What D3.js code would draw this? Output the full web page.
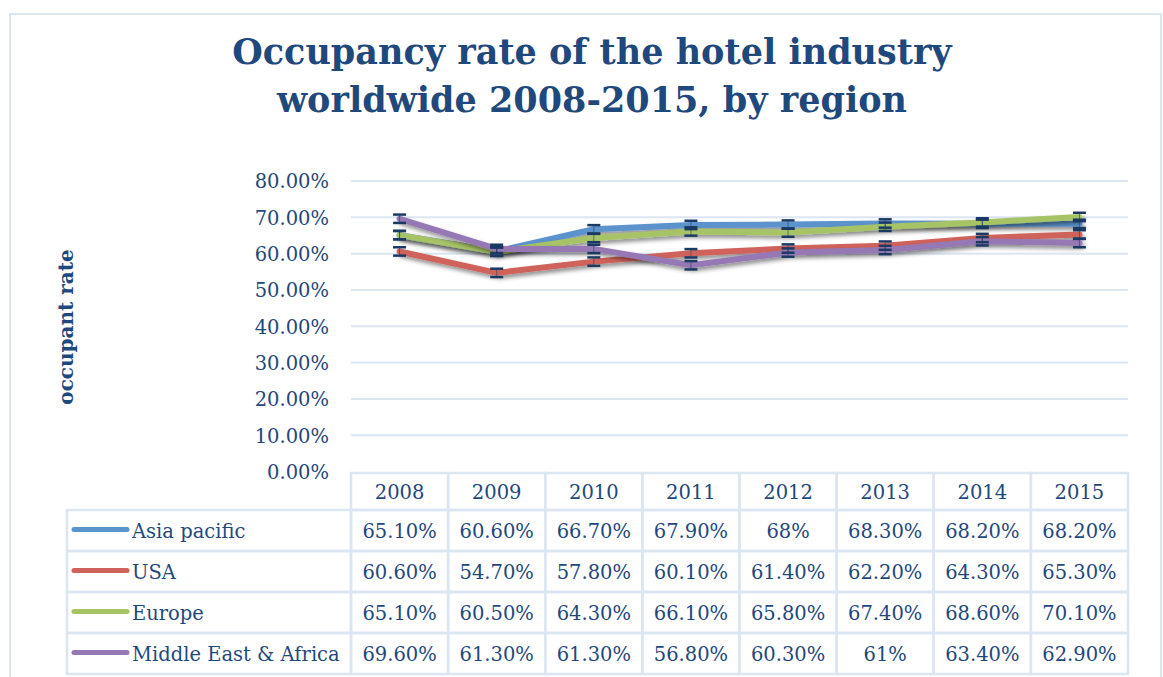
<!DOCTYPE html>
<html><head><meta charset="utf-8">
<script src="https://cdn.jsdelivr.net/npm/d3@7"></script>
<style>html,body{margin:0;padding:0;background:#fff;}svg{display:block;}</style>
</head><body>
<script>
const years = ["2008","2009","2010","2011","2012","2013","2014","2015"];
const seriesNames = ["Asia pacific","USA","Europe","Middle East & Africa"];
const asiaPacific = [65.1,60.6,66.7,67.9,68,68.3,68.2,68.2];
const usa = [60.6,54.7,57.8,60.1,61.4,62.2,64.3,65.3];
const europe = [65.1,60.5,64.3,66.1,65.8,67.4,68.6,70.1];
const middleEast = [69.6,61.3,61.3,56.8,60.3,61,63.4,62.9];
const tableLabels = [
  ["65.10%","60.60%","66.70%","67.90%","68%","68.30%","68.20%","68.20%"],
  ["60.60%","54.70%","57.80%","60.10%","61.40%","62.20%","64.30%","65.30%"],
  ["65.10%","60.50%","64.30%","66.10%","65.80%","67.40%","68.60%","70.10%"],
  ["69.60%","61.30%","61.30%","56.80%","60.30%","61%","63.40%","62.90%"]
];
const yTicks = [0,10,20,30,40,50,60,70,80];
const errorMargin = 1.15;
const titleLines = ["Occupancy rate of the hotel industry","worldwide 2008-2015, by region"];
const yTitle = "occupant rate";

const W = 1163, H = 677;
const colors = ["#5b93cd","#cf625a","#a6c366","#9679b4"];
const textColor = "#1f497d";
const gridColor = "#dce6f2";
const font = "'DejaVu Serif', serif";

const svg = d3.select("body").append("svg").attr("width", W).attr("height", H);
const defs = svg.append("defs");
const f = defs.append("filter").attr("id","shadow").attr("x","-5%").attr("y","-20%").attr("width","110%").attr("height","160%");
f.append("feDropShadow").attr("dx",2).attr("dy",3).attr("stdDeviation",2).attr("flood-color","#000").attr("flood-opacity",0.45);

svg.append("rect").attr("x",10).attr("y",14).attr("width",1151).attr("height",H+20)
  .attr("fill","#fff").attr("stroke",gridColor).attr("stroke-width",2);

// Title
svg.append("g").selectAll("text").data(titleLines).join("text")
  .attr("x",592).attr("y",(d,i)=>64+i*48)
  .attr("text-anchor","middle").attr("font-family",font).attr("font-weight","bold")
  .attr("font-size",35).attr("fill",textColor).text(d=>d);

const x0 = 351, x1 = 1128;
const x = d3.scaleBand().domain(years).range([x0,x1]).padding(0);
const y = d3.scaleLinear().domain([0,80]).range([471.5,181]);

// gridlines
svg.append("g").selectAll("line").data(yTicks.slice(1)).join("line")
  .attr("x1",x0).attr("x2",x1).attr("y1",d=>y(d)).attr("y2",d=>y(d))
  .attr("stroke",gridColor).attr("stroke-width",2);

// y axis
const yAxis = d3.axisLeft(y).tickValues(yTicks).tickSize(0).tickPadding(0)
  .tickFormat(d=>d3.format(".2f")(d)+"%");
const ya = svg.append("g").attr("transform",`translate(329,0)`).call(yAxis);
ya.select(".domain").remove();
ya.selectAll("text").attr("font-family",font).attr("font-size",19.5).attr("fill",textColor).attr("dy","0.35em");

// y title
svg.append("text").attr("transform","translate(73,327) rotate(-90)")
  .attr("text-anchor","middle").attr("font-family",font).attr("font-weight","bold")
  .attr("font-size",20).attr("fill",textColor).text(yTitle);

const allSeries = [asiaPacific, usa, europe, middleEast];
const cx = d => x(d) + x.bandwidth()/2;
const line = d3.line().x((d,i)=>cx(years[i])).y(d=>y(d));

const plot = svg.append("g");
allSeries.forEach((s,k)=>{
  plot.append("path").datum(s).attr("d",line).attr("fill","none")
    .attr("stroke",colors[k]).attr("stroke-width",6).attr("stroke-linejoin","round")
    .attr("stroke-linecap","round").attr("filter","url(#shadow)");
});
// error bars
allSeries.forEach((s,k)=>{
  const g = plot.append("g");
  s.forEach((v,i)=>{
    const c = cx(years[i]);
    g.append("line").attr("x1",c).attr("x2",c).attr("y1",y(v+errorMargin)).attr("y2",y(v-errorMargin))
      .attr("stroke","#1b3a63").attr("stroke-width",0.8).attr("stroke-opacity",0.7);
    [v+errorMargin, v-errorMargin].forEach(e=>{
      g.append("line").attr("x1",c-6.5).attr("x2",c+6.5).attr("y1",y(e)).attr("y2",y(e))
        .attr("stroke","#1b3a63").attr("stroke-width",2.5);
    });
  });
});

// data table
const tableTop = 473, headerH = 37, rowH = 41, legendX = 67;
const tg = svg.append("g");
const bw = x.bandwidth();
years.forEach(yr=>{
  tg.append("rect").attr("x",x(yr)).attr("y",tableTop).attr("width",bw).attr("height",headerH)
    .attr("fill","none").attr("stroke",gridColor).attr("stroke-width",2.5);
  tg.append("text").attr("x",cx(yr)).attr("y",tableTop+headerH/2).attr("dy","0.38em")
    .attr("text-anchor","middle").attr("font-family",font).attr("font-size",19.5).attr("fill",textColor).text(yr);
});
seriesNames.forEach((name,r)=>{
  const ry = tableTop+headerH+r*rowH;
  tg.append("rect").attr("x",legendX).attr("y",ry).attr("width",x0-legendX).attr("height",rowH)
    .attr("fill","none").attr("stroke",gridColor).attr("stroke-width",2.5);
  tg.append("line").attr("x1",74).attr("x2",127).attr("y1",ry+rowH/2-1).attr("y2",ry+rowH/2-1)
    .attr("stroke",colors[r]).attr("stroke-width",5).attr("stroke-linecap","round");
  tg.append("text").attr("x",132).attr("y",ry+rowH/2).attr("dy","0.38em")
    .attr("font-family",font).attr("font-size",19.5).attr("fill",textColor).text(name);
  years.forEach((yr,i)=>{
    tg.append("rect").attr("x",x(yr)).attr("y",ry).attr("width",bw).attr("height",rowH)
      .attr("fill","none").attr("stroke",gridColor).attr("stroke-width",2.5);
    tg.append("text").attr("x",cx(yr)).attr("y",ry+rowH/2).attr("dy","0.38em")
      .attr("text-anchor","middle").attr("font-family",font).attr("font-size",19.5).attr("fill",textColor)
      .text(tableLabels[r][i]);
  });
});
</script>
</body></html>
